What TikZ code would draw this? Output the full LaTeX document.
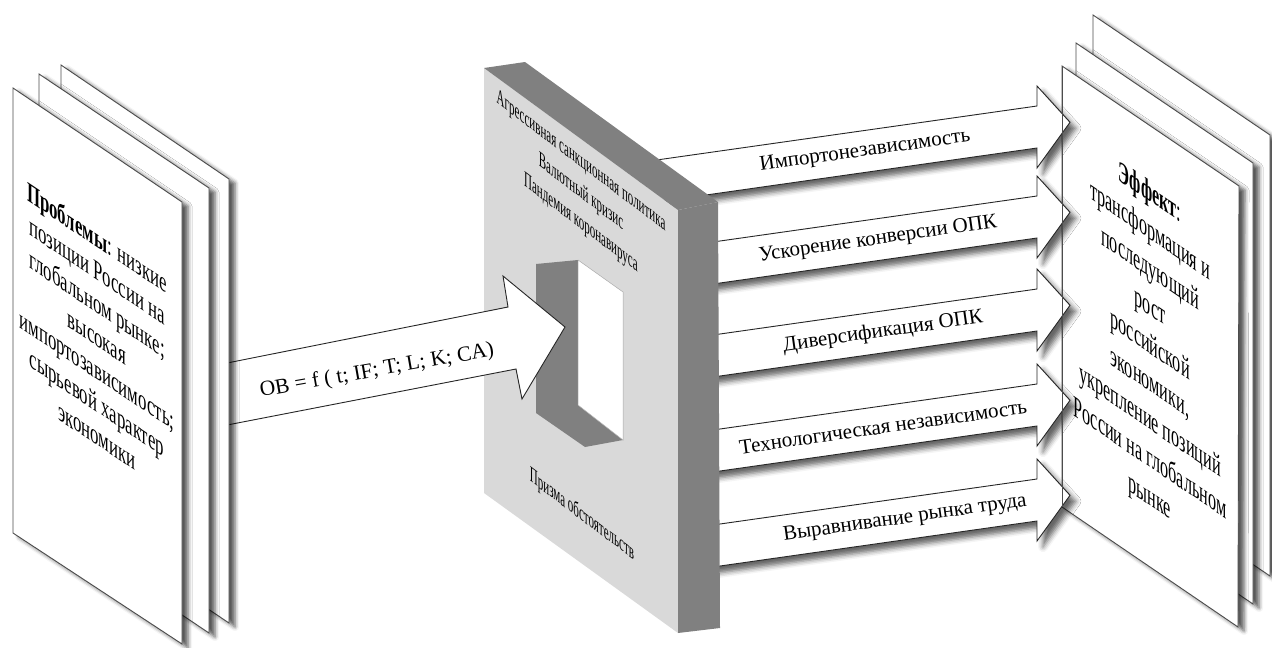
\documentclass[tikz,border=0pt]{standalone}
\usepackage{fontspec}
\setmainfont{Liberation Serif}
\usetikzlibrary{shadows.blur}

\begin{document}
\begin{tikzpicture}[x=1pt,y=-1pt,
  pageedge/.style={draw=black!70, line width=0.9pt},
  sheet/.style={fill=white, pageedge,
    blur shadow={shadow xshift=6pt, shadow yshift=-4pt, shadow blur radius=4pt, shadow opacity=65}},
  blockarrow/.style={fill=white, draw=black!85, line width=0.9pt, line join=miter},
  outarrow/.style={blockarrow,
    blur shadow={shadow xshift=6pt, shadow yshift=-6pt, shadow blur radius=5pt, shadow opacity=60}},
  slabfront/.style={fill=black!15},
  slabside/.style={fill=black!50},
  pagetext/.style={align=center, inner sep=0pt},
  arrowtext/.style={font=\fontsize{21}{25}\selectfont, inner sep=0pt},
]
\useasboundingbox (0,0) rectangle (1272,648);

% ---------- right stack of sheets (result) ----------
\path[sheet] (1093,15) -- (1270,135) -- (1270,576) -- (1093,456) -- cycle;
\path[sheet] (1076,43) -- (1253,163) -- (1253,604) -- (1076,484) -- cycle;
\path[sheet] (1062,66) -- (1239,186) -- (1238,627) -- (1062,507) -- cycle;

% ---------- five outgoing block arrows ----------
\foreach \c/\tx/\lab [count=\i] in {
    172/865/Импортонезависимость,
    262/878/{Ускорение конверсии ОПК},
    355/883/{Диверсификация ОПК},
    450/883/{Технологическая независимость},
    545/905/{Выравнивание рынка труда}} {
  \path[outarrow] (640,{\c-9.64}) -- (1037,{\c-66}) -- (1037,{\c-86})
     -- (1070,{\c-49.7}) -- (1037,{\c-4}) -- (1037,{\c-24})
     -- (640,{\c+32.36}) -- cycle;
  \node[arrowtext, rotate=8.1] (lab\i) at (\tx,{\c-0.142*(\tx-720)}) {\lab};
}
% left edge of the front result sheet stays visible
\draw[pageedge] (1062,66) -- (1062,507);

% ---------- slab with an opening ----------
\path[slabfront] (484,68) -- (678,210) -- (678,633) -- (484,493) -- cycle;
\path[slabside] (484,68) -- (525,62) -- (718,202) -- (678,210) -- cycle;
\path[slabside] (678,210) -- (718,202) -- (720,628) -- (678,633) -- cycle;
\path[slabside] (536,264) -- (578,260) -- (623,292) -- (623,440) -- (585,447) -- (536,413) -- cycle;
\path[fill=white, draw=black!30, line width=0.5pt] (578,260) -- (623,292) -- (623,440) -- (578,405) -- cycle;

\node[pagetext, cm={0.5,-0.38,0,1,(0,0)}, font=\fontsize{22}{31}\selectfont] (threats) at (581,193)
  {Агрессивная санкционная политика\\Валютный кризис\\Пандемия коронавируса};
\node[pagetext, cm={0.5,-0.38,0,1,(0,0)}, font=\fontsize{22}{31}\selectfont] (prism) at (582,515)
  {Призма обстоятельств};

% ---------- incoming block arrow ----------
\path[blockarrow] (222,364) -- (508,307) -- (503,276) -- (565,327) -- (522,399) -- (516,369)
  -- (222,426) -- cycle;
\node[font=\fontsize{21.5}{26}\selectfont, rotate=10, inner sep=0pt] (formula) at (377,371)
  {OB = f ( t; IF; T; L; K; CA)};

% ---------- left stack of sheets (problems) ----------
\path[sheet] (61,65) -- (229,179) -- (229,623) -- (61,510) -- cycle;
\path[sheet] (39,74) -- (209,188) -- (209,633) -- (39,519) -- cycle;
\path[sheet] (13,88) -- (182,202) -- (182,644) -- (13,533) -- cycle;

\node[pagetext, cm={0.6,-0.402,0,1,(0,0)}, font=\fontsize{28}{33}\selectfont] (problems) at (97,336)
  {\textbf{Проблемы}: низкие\\позиции России на\\глобальном рынке;\\высокая\\импортозависимость;\\сырьевой характер\\экономики};

\node[pagetext, cm={0.54,-0.367,0,1,(0,0)}, font=\fontsize{30}{38}\selectfont] (effect) at (1150,346)
  {\textbf{Эффект}:\\трансформация и\\последующий\\рост\\российской\\экономики,\\укрепление позиций\\России на глобальном\\рынке};
\end{tikzpicture}
\end{document}
